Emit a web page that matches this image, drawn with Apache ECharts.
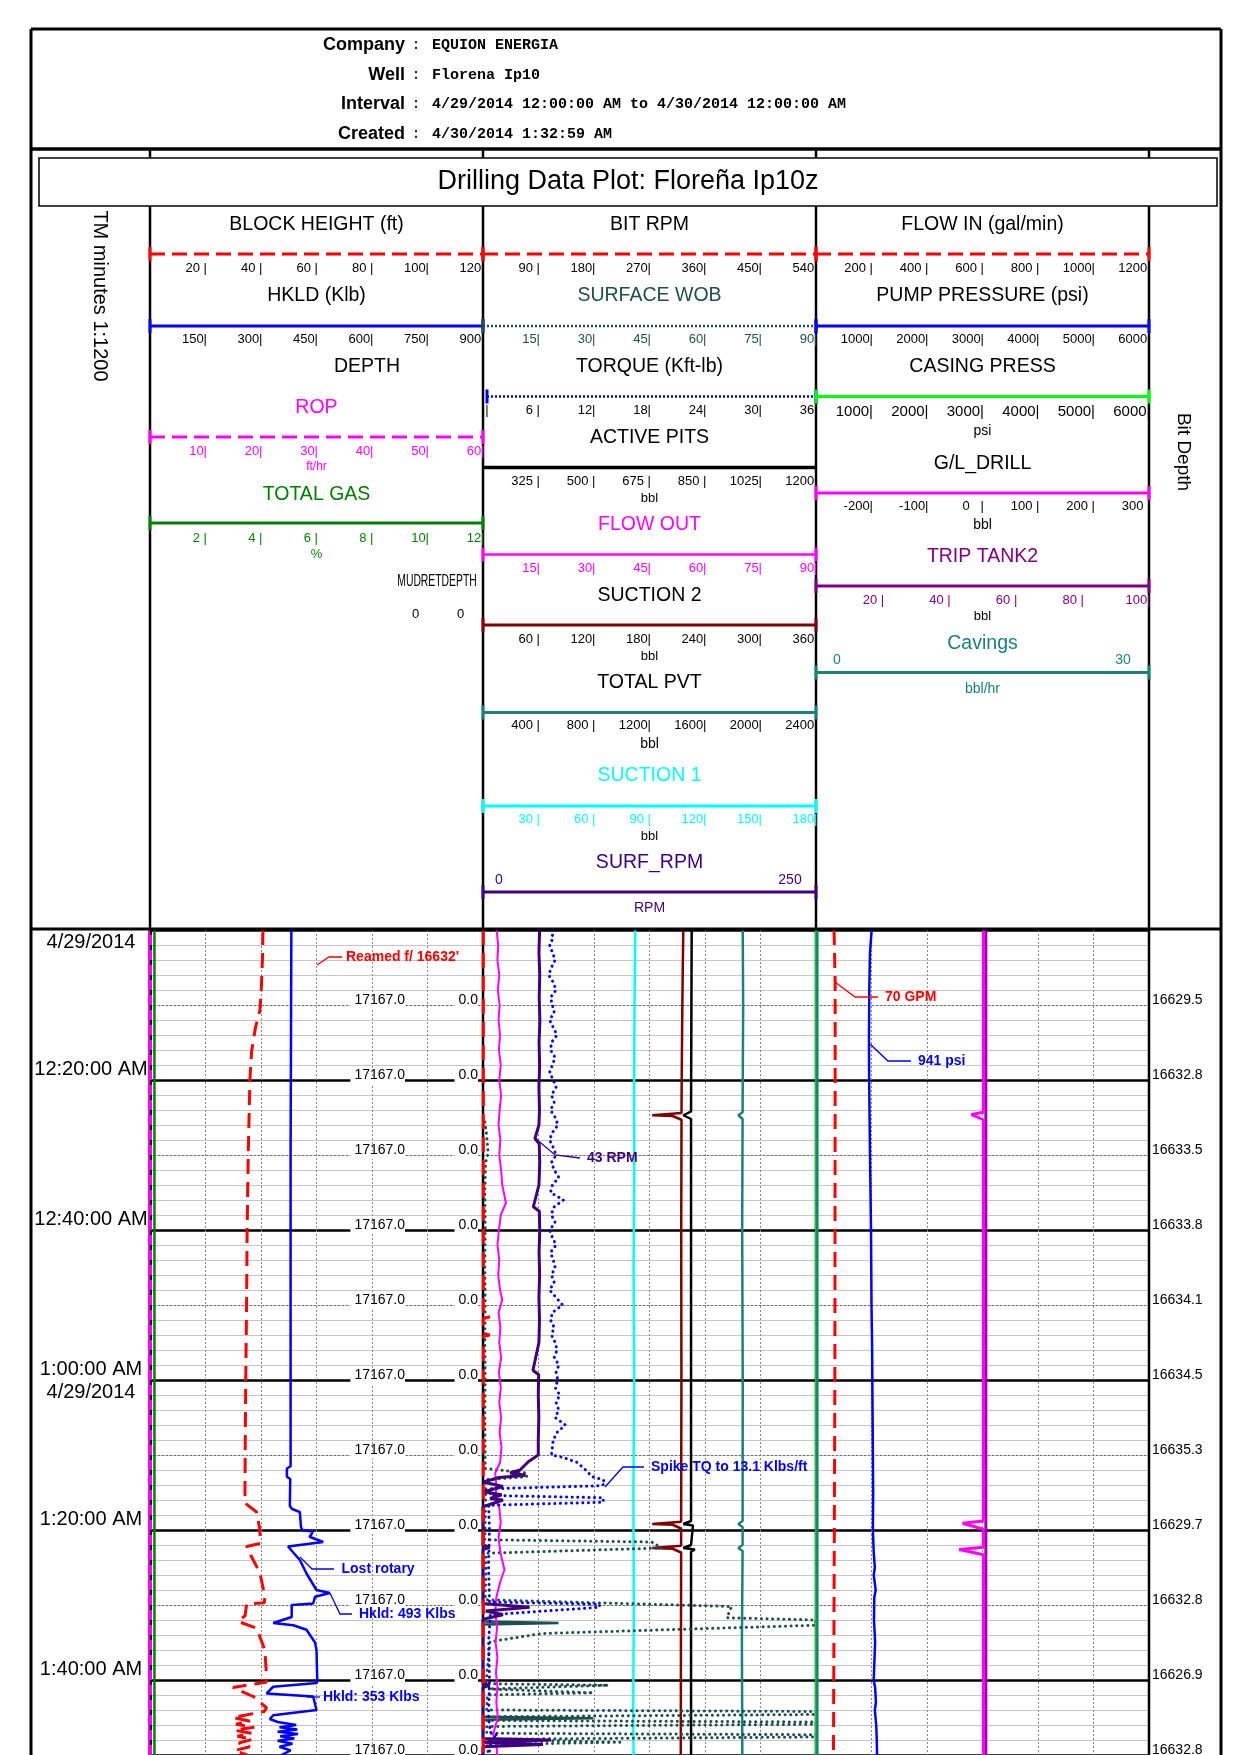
<!DOCTYPE html>
<html><head><meta charset="utf-8">
<script src="https://cdn.jsdelivr.net/npm/echarts@6/dist/echarts.min.js"></script>
<style>html,body{margin:0;padding:0;background:#fff}#c{width:1240px;height:1755px}</style>
</head><body><div id="c"></div>
<script>
// ================= DATA =================
const headerLabels = ['Company', 'Well', 'Interval', 'Created'];
const headerValues = ['EQUION ENERGIA', 'Florena Ip10', '4/29/2014 12:00:00 AM to 4/30/2014 12:00:00 AM', '4/30/2014 1:32:59 AM'];
const plotTitle = 'Drilling Data Plot: Floreña Ip10z';

const timeTickMinutes = [20, 40, 60, 80, 100];
const timeTickLabels = ['12:20:00 AM', '12:40:00 AM', '1:00:00 AM', '1:20:00 AM', '1:40:00 AM'];
const dateTickMinutes = [0, 60];
const dateLabel = '4/29/2014';
const bitDepthLabels = ['16629.5', '16632.8', '16633.5', '16633.8', '16634.1', '16634.5', '16635.3', '16629.7', '16632.8', '16626.9', '16632.8'];
const mudretDepthLabel = '17167.0';
const mudretValueLabel = '0.0';

// header tick labels
const ticksBlockHeight = ['20', '40', '60', '80', '100', '120'];
const ticksHkld = ['150', '300', '450', '600', '750', '900'];
const ticksRop = ['10', '20', '30', '40', '50', '60'];
const ticksGas = ['2', '4', '6', '8', '10', '12'];
const ticksBitRpm = ['90', '180', '270', '360', '450', '540'];
const ticksWob = ['15', '30', '45', '60', '75', '90'];
const ticksTorque = ['6', '12', '18', '24', '30', '36'];
const ticksPits = ['325', '500', '675', '850', '1025', '1200'];
const ticksFlowOut = ['15', '30', '45', '60', '75', '90'];
const ticksSuction2 = ['60', '120', '180', '240', '300', '360'];
const ticksPvt = ['400', '800', '1200', '1600', '2000', '2400'];
const ticksSuction1 = ['30', '60', '90', '120', '150', '180'];
const surfRpmEnds = ['0', '250'];
const ticksFlowIn = ['200', '400', '600', '800', '1000', '1200'];
const ticksPump = ['1000', '2000', '3000', '4000', '5000', '6000'];
const ticksCasing = ['1000', '2000', '3000', '4000', '5000', '6000'];
const ticksGl = ['-200', '-100', '0', '100', '200', '300'];
const ticksTrip = ['20', '40', '60', '80', '100'];
const cavingsEnds = ['0', '30'];

// curve scales [min, max]
const scaleBlockHeight = [0, 120], scaleHkld = [0, 900], scaleRop = [0, 60], scaleGas = [0, 12];
const scaleBitRpm = [0, 540], scaleWob = [0, 90], scaleTorque = [0, 36], scalePits = [150, 1200];
const scaleFlowOut = [0, 90], scaleSuction2 = [0, 360], scalePvt = [0, 2400], scaleSuction1 = [0, 180], scaleSurfRpm = [0, 250];
const scaleFlowIn = [0, 1200], scalePump = [0, 6000], scaleCasing = [0, 6000], scaleGl = [-300, 300], scaleTrip = [0, 100], scaleCavings = [0, 30];

// curves: [minute after 12:00 AM, value]
const blockHeight = [[0,40.7],[3,40.6],[8,40.1],[10.7,39.6],[13,38.0],[16.2,36.6],[20,36.0],[25,35.7],[30,35.4],[40,35.0],[50,34.8],[60,34.5],[70,34.3],[76.4,34.2],[77.6,38.4],[80,39.6],[81.8,39.8],[82.2,34.8],[83.5,36.5],[85.7,39.6],[88.9,41.4],[89.7,41.2],[89.9,34.8],[91.4,34.3],[92.2,31.8],[93.1,38.4],[96,41.4],[99.6,42.0],[100.3,41.8],[101,29.9],[102.2,37.2],[103.7,42.0],[104.2,41.2],[105,29.9],[105.5,36],[105.9,31],[106.3,37.5],[106.7,30.5],[107.1,36.5],[107.5,31.5],[107.9,37],[108.4,32],[108.9,36],[109.4,30.5],[110,35]];
const hkld = [[0,382],[15,381],[30,380],[45,380],[60,380],[71.5,380],[71.8,370],[72.9,370],[73.2,379],[76.8,378],[77.2,384],[77.6,405],[79.6,408],[80.0,412],[80.2,440],[80.6,436],[80.9,431],[81.6,468],[82.2,373],[84.0,405],[85.8,423],[88.0,450],[88.4,486],[88.9,446],[89.8,441],[90.0,383],[91.6,383],[92.4,333],[92.7,387],[93.3,423],[95.0,446],[96,450],[100.0,452],[100.4,451],[100.9,333],[101.8,315],[102.2,441],[104.0,450],[104.7,333],[105.2,324],[105.6,345],[106.0,395],[106.3,350],[106.6,398],[106.9,345],[107.2,400],[107.5,352],[107.8,390],[108.1,345],[108.5,385],[108.9,350],[109.4,380],[110,355]];
const rop = [[0,0],[110,0]];
const totalGas = [[0,0.16],[110,0.16]];

const bitRpm = [[0,0.5],[51.4,0.5],[51.6,11],[51.8,0.5],[53.8,0.5],[54,11],[54.2,0.5],[110,0.5]];
const surfaceWob = [[25.6,0.5],[27,0.9],[29.8,1.4],[31,0.7],[35,0.5],[40,0.6],[45,0.5],[50,0.6],[55,0.5],[60,0.6],[65,0.5],[71.8,0.6],[72.4,11.8],[72.9,11.8],[73.3,0.8],[81.3,0.5],[81.6,45.6],[82.4,48.3],[83.1,0.9],[89.3,0.6],[90.2,67.2],[91.7,65.9],[92.0,89.9],[92.7,89.9],[93.8,15.9],[94.9,1.9],[100.5,0.8],[100.7,33.9],[101.2,1.4],[101.7,29.8],[102.0,1.2],[104.0,1.0],[104.2,90],[104.6,90],[104.9,1.0],[105.4,1.0],[105.6,90],[105.9,90],[106.2,1.0],[107.1,1.0],[107.3,90],[107.6,90],[107.9,1.0],[108.3,37],[108.6,1.0],[110,1.5]];
const surfaceWobSpikes = [[92.2,0.5],[92.4,20.4],[92.6,0.5],['-'],[104.9,0.5],[105.1,29.8],[105.3,0.5]];
const torqueByMinute = [7.3,7.6,7.2,7.5,7.8,7.4,7.1,7.6,7.9,7.3, 7.5,7.7,7.2,7.6,8.0,7.4,7.3,7.8,7.5,7.2, 7.6,7.9,7.4,7.7,7.3,7.8,8.1,7.5,7.2,7.6, 7.9,7.4,7.7,8.2,7.5,7.3,8.7,7.6,7.4,7.8, 7.2,7.5,7.9,7.3,7.6,7.8,7.4,7.7,7.2,7.9, 8.6,7.5,7.3,7.7,7.4,7.8,8.0,7.7,8.2,7.9, 8.1,7.8,8.3,7.9,8.2,7.8,8.9,8.0,7.6,7.5, 7.4];
const torqueLate = [[70.3,8.6],[71,10.2],[72,11.1],[72.9,11.8],[73.3,13.0],[73.8,13.2],[74.1,12.8],[74.5,0.8],[75.4,0.8],[75.7,13.0],[76.3,13.0],[76.7,0.6],[80,0.7],[85,0.6],[89.6,0.7],[89.9,12.6],[90.3,12.6],[91.3,0.8],[95,0.6],[100,0.7],[105,0.6],[107,0.8],[107.4,1.6],[108,0.7],[110,0.7]];
const activePits = [[0,808],[12,807],[24.2,806],[24.7,781.6],[25.2,806],[40,806],[60,806],[78.8,806],[79.2,781.6],[79.4,812],[79.6,806],[82.0,806],[82.4,781.6],[82.6,818],[82.9,806],[110,806]];
const flowOut = [[0,3.7],[2,4.1],[4,3.9],[6,4.4],[8,4.0],[10,4.5],[12,4.2],[14,4.6],[16,4.3],[18,4.8],[20,4.4],[22,4.9],[24,4.5],[26,4.2],[28,4.7],[30,4.4],[32,4.9],[34,5.2],[36.4,6.2],[38,4.8],[40,4.3],[42,3.9],[44,4.4],[46,4.1],[48,4.6],[49.3,5.2],[51,4.2],[53,4.7],[55,4.4],[57,4.9],[59,4.3],[61,4.8],[63,4.4],[65,4.9],[67,4.5],[69,5.0],[71,4.6],[72.4,3.3],[74,3.6],[76,3.4],[77,4.4],[79,4.8],[81,4.2],[83,4.7],[85.3,5.8],[87,4.6],[89,3.6],[91,3.3],[93,3.8],[95,3.4],[97,3.9],[99,3.5],[101,3.9],[103,3.6],[105,4.0],[107.3,2.7],[108,3.6],[110,3.8]];
const suction2 = [[0,216.5],[10,215.5],[20,214.8],[24.4,214.6],[24.7,183],[24.8,205],[25.3,214.6],[40,214.3],[60,214.5],[78.9,214.2],[79.2,183],[79.3,205],[79.8,214.2],[82.1,214.2],[82.4,183],[82.5,205],[83.0,214.2],[95,214.0],[110,213.8]];
const totalPvt = [[0,1872],[10,1875],[24.3,1871],[24.7,1840],[25.2,1871],[40,1868],[60,1872],[78.8,1871],[79.2,1840],[79.6,1871],[82.0,1871],[82.4,1840],[82.8,1871],[95,1866],[110,1869]];
const suction1 = [[0,82.3],[10,81.9],[24,81.6],[30,81.8],[45,81.4],[60,81.7],[75,81.3],[90,81.5],[105,81.2],[110,81.4]];
const surfRpm = [[0,42.5],[3,42.0],[6,42.6],[9,42.2],[12,42.7],[15,42.1],[18,42.5],[21,42.0],[24,42.4],[26,42.0],[27.8,39.0],[28.5,42.2],[31,42.6],[34,42.0],[36.9,37.8],[37.5,42.3],[40,42.6],[43,42.1],[46,42.5],[49,42.0],[52,42.4],[55,42.0],[58.7,37.5],[59.3,41.8],[62,41.5],[65,41.9],[68,41.5],[70,41.5],[70.9,34],[72,27.8],[72.4,20.3],[72.7,32],[73.0,12],[73.6,0.3],[74.2,15],[74.9,0.5],[75.3,14],[75.8,5.3],[76,15],[76.9,0],[82,0],[82.3,5],[82.6,0],[89.8,0],[90.3,35],[90.8,2],[91.3,15],[91.9,0],[100.4,0],[100.7,5],[101,0],[107.8,0],[108,51],[108.3,0],[108.6,45],[108.9,0],[110,0]];

const flowIn = [[0,65],[7,69],[20,69],[40,68.5],[60,68],[80,66],[100,64],[110,63]];
const pumpPressure = [[0,1003],[3,973],[8,960],[15,955],[20,958],[30,973],[40,991],[50,1000],[55,1010],[65,1020],[75,1030],[80,1025],[83,1040],[85,1060],[86,1040],[88,1075],[89,1050],[92,1045],[95,1065],[98,1050],[100,1040],[101,1065],[103,1080],[104,1060],[106,1085],[108,1095],[110,1100]];
const casingPress = [[0,0],[110,0]];
const glDrill = [[0,1.5],[24.3,1.5],[24.6,-20],[24.75,-22],[25.3,1.5],[78.8,1.5],[79.1,-36],[79.2,-37],[79.9,1.5],[82.3,1.5],[82.6,-42],[82.7,-43],[83.3,1.5],[110,1.5]];
const tripTank2 = [[0,51],[110,51]];
const cavings = [[0,0.1],[110,0.1]];

const annotationTexts = ["Reamed f/ 16632'", '70 GPM', '941 psi', '43 RPM', 'Spike TQ to 13.1 Klbs/ft', 'Lost rotary', 'Hkld: 493 Klbs', 'Hkld: 353 Klbs'];

// ================= LAYOUT / STYLE =================
const FONT = '"Liberation Sans", Arial, Helvetica, sans-serif';
const MONO = '"Liberation Mono", "Courier New", monospace';
const RED='#ff0000', BLUE='#0000ff', MAG='#ff00ff', GREEN='#008000', LIME='#00ff00', DRED='#800000', TEAL='#1a8080', CYAN='#00ffff', INDIGO='#3f0080', PURPLE='#800080', WOBC='#1d4f4f', BLACK='#000';
const T_MAX = 110;
const TX = [150, 483, 816], TW = 333, DATA_TOP = 930;

const G = [];
function L(x1,y1,x2,y2,stroke,lw,dash,z){ const st={stroke,lineWidth:lw}; if(dash) st.lineDash=dash; G.push({type:'line',z:(z==null?1:z),shape:{x1,y1,x2,y2},style:st}); }
function TXT(x,y,text,o){ o=o||{}; const al=o.align||'center', va=o.va||'middle';
  G.push({type:'text', z:(o.z==null?3:o.z), x, y, rotation:o.rot||0, scaleX:o.sx||1,
    style:{text, fill:o.color||BLACK, fontSize:o.size||13, fontFamily:o.family||FONT, fontWeight:o.weight||'normal',
      align:al, verticalAlign:va, textAlign:al, textVerticalAlign:va}}); }

// --- frame ---
L(31,29,1221,29,BLACK,3,null,4);
L(31,29,31,1755,BLACK,3,null,4);
L(1221,29,1221,1755,BLACK,3,null,4);
L(31,149,1221,149,BLACK,3.5,null,4);
L(31,929,1221,929,BLACK,3,null,4);
[150,483,816,1149].forEach(x=>L(x,149,x,1755,BLACK,2.5,null,1));
G.push({type:'rect', z:2, shape:{x:39,y:158,width:1178,height:48}, style:{fill:'#fff', stroke:BLACK, lineWidth:1.5}});
TXT(628,182,plotTitle,{size:27,z:3});

// --- header block ---
const hdrY = [45, 75, 104.5, 134];
headerLabels.forEach((s,i)=>{
  TXT(405,hdrY[i],s,{align:'right',size:18,weight:'bold'});
  TXT(416,hdrY[i],':',{family:MONO,size:15});
  TXT(432,hdrY[i],headerValues[i],{align:'left',family:MONO,size:15,weight:'bold'});
});
TXT(100,296,'TM minutes 1:1200',{size:20,rot:-Math.PI/2});
TXT(1183,452,'Bit Depth',{size:19,rot:-Math.PI/2});

// --- track headers ---
const TS = 19.5;
function title(t,y,text,color,x){ TXT(x||TX[t]+TW/2,y,text,{size:TS,color:color||BLACK}); }
function unit(t,y,text,color,size){ TXT(TX[t]+TW/2,y,text,{size:size||13,color:color||BLACK}); }
function scaleLine(t,y,color,lw,dash,x0){ const a=x0||TX[t], b=TX[t]+TW;
  L(a,y,b,y,color,lw,dash,3); L(a,y-7,a,y+7,color,3,null,3); L(b,y-7,b,y+7,color,3,null,3); }
function ticks(t,y,labels,color,size){ const n=labels.length, m=Math.max(...labels.map(s=>s.length));
  labels.forEach((s,k)=>TXT(TX[t]+(k+1)*TW/n+1.5,y,s.padEnd(m,' ')+'|',{align:'right',size:size||13,color:color||BLACK})); }
function ends(t,y,labels,color,xl,xr){ TXT(xl,y,labels[0],{size:14,color}); TXT(xr,y,labels[1],{size:14,color}); }

// track 1
title(0,225,'BLOCK HEIGHT (ft)'); scaleLine(0,254,RED,3,[15,7]); ticks(0,268.5,ticksBlockHeight);
title(0,296,'HKLD (Klb)'); scaleLine(0,326,BLUE,3); ticks(0,339.5,ticksHkld);
title(0,367,'DEPTH',BLACK,367);
title(0,408,'ROP',MAG); scaleLine(0,437,MAG,3,[15,7]); ticks(0,451.5,ticksRop,MAG); unit(0,466.5,'ft/hr',MAG,12);
title(0,495,'TOTAL GAS',GREEN); scaleLine(0,523,GREEN,3); ticks(0,538,ticksGas,GREEN); unit(0,554,'%',GREEN,13);
TXT(437,581,'MUDRETDEPTH',{size:17,sx:0.61});
TXT(415.7,614,'0',{size:13}); TXT(460.7,614,'0',{size:13});
// track 2
title(1,225,'BIT RPM'); scaleLine(1,254,RED,3,[15,7]); ticks(1,268.5,ticksBitRpm);
title(1,296,'SURFACE WOB',WOBC); scaleLine(1,326,WOBC,2.5,[2,2]); ticks(1,339.5,ticksWob,WOBC);
title(1,367,'TORQUE (Kft-lb)'); scaleLine(1,396.5,BLUE,2.5,[2,2],487); ticks(1,410.5,ticksTorque); TXT(487,410.5,'|',{size:13});
title(1,437.5,'ACTIVE PITS'); L(483,467.5,816,467.5,BLACK,3.5,null,3); ticks(1,481.5,ticksPits); unit(1,498,'bbl');
title(1,525,'FLOW OUT',MAG); scaleLine(1,554.5,MAG,2.5); ticks(1,568,ticksFlowOut,MAG);
title(1,596,'SUCTION 2'); scaleLine(1,625,DRED,3); ticks(1,639.5,ticksSuction2); unit(1,656,'bbl');
title(1,683,'TOTAL PVT'); scaleLine(1,712.5,TEAL,3); ticks(1,725.5,ticksPvt); unit(1,744,'bbl',BLACK,14);
title(1,776,'SUCTION 1',CYAN); scaleLine(1,806,CYAN,3); ticks(1,819.5,ticksSuction1,CYAN); unit(1,836,'bbl');
title(1,863,'SURF_RPM',INDIGO); ends(1,880,surfRpmEnds,INDIGO,499,790); scaleLine(1,892,INDIGO,3); unit(1,908.5,'RPM',INDIGO,14);
// track 3
title(2,225,'FLOW IN (gal/min)'); scaleLine(2,254,RED,3,[15,7]); ticks(2,268.5,ticksFlowIn);
title(2,296,'PUMP PRESSURE (psi)'); scaleLine(2,326,BLUE,3); ticks(2,339.5,ticksPump);
title(2,367,'CASING PRESS'); scaleLine(2,396.5,LIME,3); ticks(2,411.5,ticksCasing,BLACK,15); unit(2,431.5,'psi',BLACK,14);
title(2,464,'G/L_DRILL'); scaleLine(2,493,MAG,3); ticks(2,506,ticksGl); unit(2,525,'bbl',BLACK,14);
title(2,557,'TRIP TANK2',PURPLE); scaleLine(2,586,PURPLE,3); ticks(2,600,ticksTrip,PURPLE); unit(2,616.5,'bbl');
title(2,644,'Cavings',TEAL); ends(2,660.5,cavingsEnds,TEAL,837,1123); scaleLine(2,672.5,TEAL,3); unit(2,689,'bbl/hr',TEAL,14);

// black dashes on the left edge of track 1 (above curves)
L(151,930,151,1755,BLACK,2.2,[5,10],5);

// --- annotations ---
const annLayout = [
  {pts:[[317,965],[329,957],[342,957]], x:346, y:957, c:RED},
  {pts:[[835,982],[855,997],[878,997]], x:885, y:997, c:RED},
  {pts:[[870,1044],[888,1061],[911,1061]], x:918, y:1061, c:BLUE},
  {pts:[[535,1138],[555,1155],[580,1158]], x:587, y:1158, c:INDIGO},
  {pts:[[605,1487],[623,1467],[644,1467]], x:651, y:1467, c:BLUE},
  {pts:[[300,1557],[312,1569],[334,1569]], x:341.5, y:1569, c:BLUE},
  {pts:[[330,1593],[340,1614],[352,1614]], x:359, y:1614, c:BLUE},
  {pts:[[307,1697],[320,1697]], x:323, y:1697, c:BLUE}
];
annLayout.forEach((a,i)=>{
  G.push({type:'polyline', z:10, shape:{points:a.pts}, style:{stroke:a.c, lineWidth:1.3, fill:null}});
  TXT(a.x,a.y,annotationTexts[i],{align:'left',size:14,weight:'bold',color:a.c,z:10});
});

// ================= AXES & SERIES =================
const grids=[], xAxes=[], yAxes=[], series=[];
function addX(g,min,max,extra){ xAxes.push(Object.assign({type:'value',gridIndex:g,min,max,show:false},extra||{})); return xAxes.length-1; }
function addY(g,extra){ yAxes.push(Object.assign({type:'value',gridIndex:g,min:0,max:T_MAX,inverse:true,
  axisLine:{show:false},axisTick:{show:false},axisLabel:{show:false},splitLine:{show:false}},extra||{})); return yAxes.length-1; }
const baseY=[];
for(let g=0; g<3; g++){
  grids.push({left:TX[g], top:DATA_TOP, width:TW, height:1755-DATA_TOP, containLabel:false, outerBoundsMode:'none', show:false});
  addX(g,0,6,{show:true,interval:1,z:0,axisLine:{show:false},axisTick:{show:false},axisLabel:{show:false},
    splitLine:{show:true,lineStyle:{color:'#8a8a8a',width:1,type:[2,2]}}});
  baseY[g]=addY(g,{interval:2,z:0,splitLine:{show:true,lineStyle:{color:'#c6c6c6',width:1}}});
  addY(g,{interval:10,z:0,splitLine:{show:true,lineStyle:{color:'#707070',width:1,type:[2,2]}}});
  addY(g,{interval:20,z:0,splitLine:{show:true,lineStyle:{color:'#000',width:2.5}}});
}
// time & date labels (left column)
addY(0,{position:'left',interval:20,z:1,axisLabel:{show:true,showMinLabel:false,showMaxLabel:true,
  formatter:v=>{const i=timeTickMinutes.indexOf(v); return i>=0?timeTickLabels[i]:'';},
  align:'center',margin:59,verticalAlign:'bottom',lineHeight:20,padding:[0,0,1,0],fontSize:20,color:'#000',fontFamily:FONT}});
addY(0,{position:'left',interval:60,z:1,axisLabel:{show:true,showMinLabel:true,showMaxLabel:false,
  formatter:v=>dateTickMinutes.indexOf(v)>=0?dateLabel:'',
  align:'center',margin:59,verticalAlign:'top',lineHeight:20,padding:[2,0,0,0],fontSize:20,color:'#000',fontFamily:FONT}});
// MUDRET DEPTH columns inside track 1: white masks that break the row lines, then the text
function mudAxes(text, margin){
  const f = v=>(v>0&&v%10===0)?text:'';
  addY(0,{position:'right',interval:10,z:1,axisLabel:{show:true,inside:true,showMinLabel:false,showMaxLabel:true,margin:margin,
    formatter:f,fontSize:14,fontFamily:FONT,color:'rgba(0,0,0,0)',backgroundColor:'#fff',padding:[0,2,0,2],lineHeight:8,verticalAlign:'middle'}});
  addY(0,{position:'right',interval:10,z:1,axisLabel:{show:true,inside:true,showMinLabel:false,showMaxLabel:true,margin:margin,
    formatter:f,fontSize:14,fontFamily:FONT,color:'#000',lineHeight:10,verticalAlign:'bottom'}});
}
mudAxes(mudretValueLabel, 5);
mudAxes(mudretDepthLabel, 78);
// Bit depth labels (right column)
addY(2,{position:'right',interval:10,z:1,axisLabel:{show:true,showMinLabel:false,showMaxLabel:true,margin:3,
  formatter:v=>(v>0&&v%10===0)?bitDepthLabels[Math.round(v/10)-1]:'',
  fontSize:14,color:'#000',fontFamily:FONT,lineHeight:10,verticalAlign:'bottom'}});

function toXY(pts){ return pts.map(p=>p[0]==='-'?['-','-']:[p[1],p[0]]); }
function addLine(name,g,scale,pts,ls,z){
  const xi=addX(g,scale[0],scale[1]);
  series.push({type:'line',name,xAxisIndex:xi,yAxisIndex:baseY[g],data:toXY(pts),symbol:'none',showSymbol:false,
    clip:false,animation:false,connectNulls:false,z:z||2,lineStyle:ls});
}
const DOT = {width:3,type:[0.1,5.5],cap:'round'};
// track 1
addLine('ROP',0,scaleRop,rop,{color:MAG,width:4});
addLine('TOTAL GAS',0,scaleGas,totalGas,{color:GREEN,width:2.5});
addLine('BLOCK HEIGHT',0,scaleBlockHeight,blockHeight,{color:RED,width:3,type:[15,8]});
addLine('HKLD',0,scaleHkld,hkld,{color:BLUE,width:2.5});
// track 2
addLine('SUCTION 1',1,scaleSuction1,suction1,{color:CYAN,width:2.5});
addLine('SUCTION 2',1,scaleSuction2,suction2,{color:DRED,width:2.5});
addLine('ACTIVE PITS',1,scalePits,activePits,{color:BLACK,width:2.5});
addLine('TOTAL PVT',1,scalePvt,totalPvt,{color:TEAL,width:2.5});
addLine('SURFACE WOB',1,scaleWob,surfaceWob,Object.assign({color:WOBC},DOT));
addLine('SURFACE WOB spikes',1,scaleWob,surfaceWobSpikes,{color:WOBC,width:2.5});
addLine('FLOW OUT',1,scaleFlowOut,flowOut,{color:MAG,width:2});
addLine('TORQUE',1,scaleTorque,torqueByMinute.map((v,i)=>[i,v]).concat(torqueLate),Object.assign({color:BLUE},DOT));
addLine('SURF_RPM',1,scaleSurfRpm,surfRpm,{color:INDIGO,width:3});
addLine('BIT RPM',1,scaleBitRpm,bitRpm,{color:RED,width:3,type:[15,8]});
// track 3
addLine('CASING PRESS',2,scaleCasing,casingPress,{color:LIME,width:2});
addLine('Cavings',2,scaleCavings,cavings,{color:'#138a6e',width:3});
addLine('FLOW IN',2,scaleFlowIn,flowIn,{color:RED,width:3,type:[15,8]});
addLine('PUMP PRESSURE',2,scalePump,pumpPressure,{color:BLUE,width:2.5});
addLine('TRIP TANK2',2,scaleTrip,tripTank2,{color:'#a000a0',width:3});
addLine('G/L_DRILL',2,scaleGl,glDrill,{color:MAG,width:3});

const chart = echarts.init(document.getElementById('c'),null,{renderer:'canvas',width:1240,height:1755});
chart.setOption({
  backgroundColor:'#fff', animation:false,
  grid:grids, xAxis:xAxes, yAxis:yAxes, series,
  graphic:{elements:G}
});
</script>
</body></html>
